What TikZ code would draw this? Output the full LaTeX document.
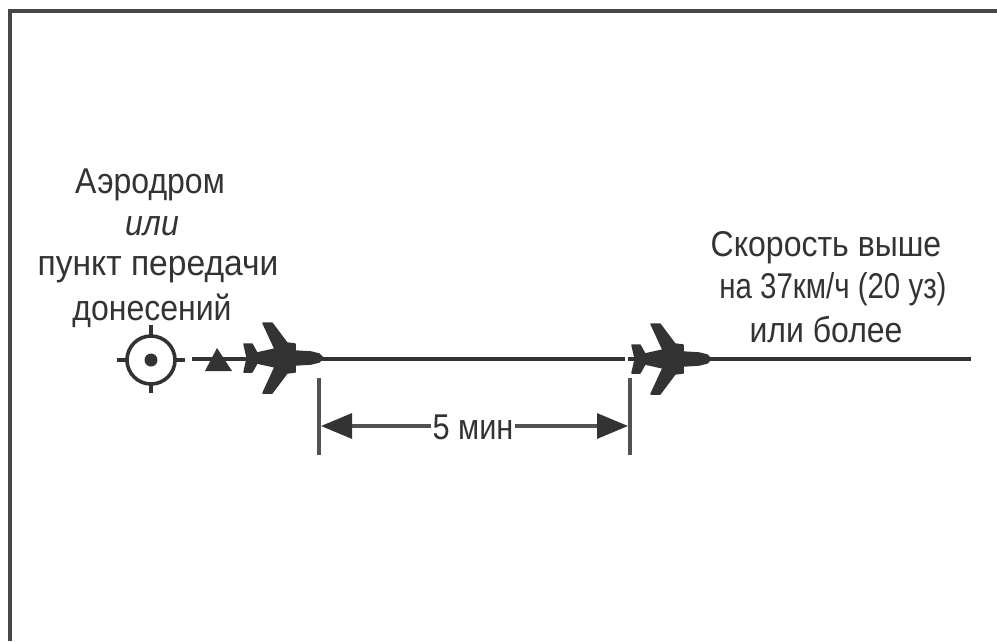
\documentclass[tikz,border=0pt]{standalone}
\usepackage{fontspec}
\setmainfont{Liberation Sans}
\usetikzlibrary{arrows.meta}
\definecolor{ink}{HTML}{333333}
\newcommand{\sq}[2]{\scalebox{#1}[1.12]{#2}}
\tikzset{
  x=1pt,y=-1pt,
  lbl/.style={inner sep=0pt,text=ink,font=\fontsize{32}{38}\selectfont},
  rule/.style={draw=ink,line width=4pt},
  tick/.style={draw=ink,line width=3.4pt},
  thin rule/.style={draw=ink!85,line width=3.2pt},
  framing/.style={draw=ink!90,line width=4pt},
  airliner/.pic={
    \filldraw[ink,line width=1.5pt,line join=round] (0,0) -- (-4,-4) -- (-12,-6) -- (-28,-7) -- (-28,-14) -- (-36,-15) -- (-51,-35) -- (-60,-35)
      -- (-48,-9) -- (-66,-5) -- (-71,-14) -- (-79,-14) -- (-76,-1)
      -- (-76,1) -- (-79,14) -- (-71,14) -- (-66,5) -- (-48,9)
      -- (-60,35) -- (-51,35) -- (-36,15) -- (-28,14) -- (-28,7) -- (-12,6) -- (-4,4) -- cycle;
  }
}
\begin{document}
\begin{tikzpicture}
\useasboundingbox (0,0) rectangle (997,641);
\fill[white] (0,0) rectangle (997,641);
% frame
\draw[framing] (9.5,641) -- (9.5,10.5) -- (997,10.5);
% labels
\node[lbl] (a1) at (150,185) {\sq{1}{Аэродром}};
\node[lbl] (a2) at (152,226) {\sq{1}{\itshape или}};
\node[lbl] (a3) at (158,270) {\sq{1.05}{пункт передачи}};
\node[lbl] (a4) at (152,311) {\sq{1}{донесений}};
\node[lbl] (b1) at (826,248) {\sq{1}{Скорость выше}};
\node[lbl] (b2) at (833,289) {\sq{0.92}{на 37км/ч (20 уз)}};
\node[lbl] (b3) at (826,330) {\sq{1}{или более}};
% reporting point
\coordinate (fix) at (151,360);
\draw[ink,line width=3.6pt] (fix) circle (24);
\fill[ink] (fix) circle (6.5);
\draw[tick] (117,360) -- (127,360) (175,360) -- (185,360) (151,325) -- (151,335) (151,385) -- (151,393);
% track
\coordinate (t0) at (192,359);
\coordinate (t1) at (625,359);
\coordinate (t2) at (628,359);
\coordinate (t3) at (971,359);
\draw[rule] (t0) -- (t1) (t2) -- (t3);
\fill[ink] (217,348) -- (205,371) -- (232,371) -- cycle;
\pic at (323,358) {airliner};
\pic at (711,359) {airliner};
% dimension
\coordinate (d1) at (319,378);
\coordinate (d2) at (319,455);
\coordinate (d3) at (630,378);
\coordinate (d4) at (630,455);
\coordinate (e1) at (321,426);
\coordinate (e2) at (628,426);
\draw[thin rule] (d1) -- (d2) (d3) -- (d4);
\node[lbl,inner xsep=1pt] (m) at (473,427) {\sq{0.96}{5 мин}};
\draw[thin rule,{Triangle[length=31pt,width=25pt,color=ink]}-] (e1) -- (m.west |- e1);
\draw[thin rule,-{Triangle[length=31pt,width=25pt,color=ink]}] (m.east |- e2) -- (e2);
\end{tikzpicture}
\end{document}
